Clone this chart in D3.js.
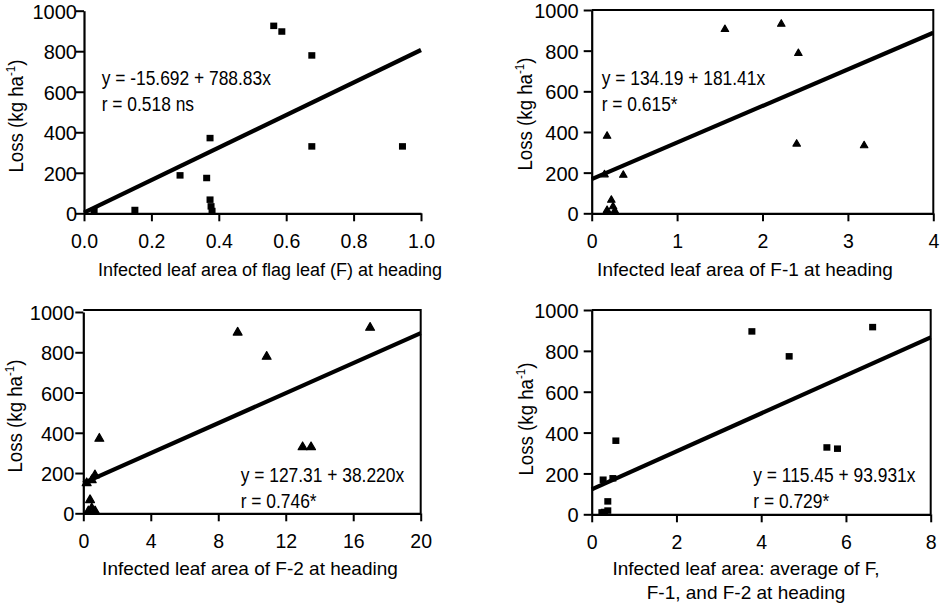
<!DOCTYPE html>
<html><head><meta charset="utf-8">
<script src="https://cdn.jsdelivr.net/npm/d3@7"></script>
<style>body{margin:0;background:#fff}svg{display:block}</style>
</head><body><svg id="c" width="945" height="604"></svg>
<script>
// ---- data ----
const lossTicks = [0, 200, 400, 600, 800, 1000];

const flagX = [0.563, 0.587, 0.676, 0.374, 0.676, 0.945, 0.285, 0.364, 0.151, 0.374, 0.377, 0.380, 0.03];
const flagY = [924, 896, 778, 370, 329, 329, 186, 173, 15, 66, 33, 10, 12];

const f1X = [1.56, 2.22, 2.42, 0.18, 2.40, 3.19, 0.37, 0.15, 0.23, 0.25, 0.27, 0.18];
const f1Y = [905, 931, 787, 380, 341, 333, 188, 190, 65, 33, 12, 15];

const f2X = [9.15, 17.0, 10.87, 0.95, 13.0, 13.5, 0.69, 0.5, 0.2, 0.4, 0.5, 0.7, 0.3];
const f2Y = [898, 922, 778, 371, 329, 329, 189, 165, 150, 66, 25, 10, 10];

const avgX = [3.78, 6.63, 4.66, 0.57, 5.55, 5.80, 0.27, 0.5, 0.24, 0.38, 0.38, 0.30];
const avgY = [894, 915, 772, 359, 326, 320, 168, 175, 8, 62, 17, 10];

const xTicksFlag = [0, 0.2, 0.4, 0.6, 0.8, 1.0];
const xTicksF1 = [0, 1, 2, 3, 4];
const xTicksF2 = [0, 4, 8, 12, 16, 20];
const xTicksAvg = [0, 2, 4, 6, 8];

const eqLines = ["y = -15.692 + 788.83x", "y = 134.19 + 181.41x", "y = 127.31 + 38.220x", "y = 115.45 + 93.931x"];
const rLines = ["r = 0.518 ns", "r = 0.615*", "r = 0.746*", "r = 0.729*"];
// fitted line as drawn: loss at start and end of x domain
const fitStart = [3, 168, 150, 122];
const fitEnd = [806, 888, 895, 866];

const xTitles = [
  ["Infected leaf area of flag leaf (F) at heading"],
  ["Infected leaf area of F-1 at heading"],
  ["Infected leaf area of F-2 at heading"],
  ["Infected leaf area: average of F,", "F-1, and F-2 at heading"]
];

// ---- layout ----
const FONT = "'Liberation Sans', Arial, sans-serif";
const COND = 0.87; // horizontal condensing of equation / axis-title text
const panels = [
  {xs: flagX, ys: flagY, ticks: xTicksFlag, fmt: d3.format(".1f"), x0: 84, x1: 421, yT: 10.7, yB: 213.3, frame: false, sym: "square",
   ylx: 23, yly: 116, ytPad: 7, eqX: 101.7, eqY: 85, xtX: 270, xtY: 276, xtSize: 18},
  {xs: f1X, ys: f1Y, ticks: xTicksF1, fmt: d3.format("d"), x0: 591.7, x1: 933.3, yT: 10, yB: 213.3, frame: true, sym: "tri", triSize: 24,
   ylx: 532, yly: 114, ytPad: 13, eqX: 601.7, eqY: 85, xtX: 745, xtY: 276, xtSize: 19},
  {xs: f2X, ys: f2Y, ticks: xTicksF2, fmt: d3.format("d"), x0: 83.3, x1: 420.7, yT: 312, yB: 513.3, frame: true, sym: "tri", triSize: 34,
   ylx: 22, yly: 416, ytPad: 9, eqX: 240.7, eqY: 481.7, xtX: 250, xtY: 575, xtSize: 19, frameTop: 310},
  {xs: avgX, ys: avgY, ticks: xTicksAvg, fmt: d3.format("d"), x0: 591.7, x1: 930.7, yT: 310, yB: 514.3, frame: true, sym: "square",
   ylx: 533, yly: 419, ytPad: 13, eqX: 753.3, eqY: 481.7, xtX: 746, xtY: 575, xtSize: 19}
];

const svg = d3.select("#c");

panels.forEach((p, i) => {
  const xDom = [p.ticks[0], p.ticks[p.ticks.length - 1]];
  const x = d3.scaleLinear().domain(xDom).range([p.x0, p.x1]);
  const y = d3.scaleLinear().domain([0, 1000]).range([p.yB, p.yT]);
  const g = svg.append("g");

  // frame (top and right)
  if (p.frame) {
    const ft = p.frameTop !== undefined ? p.frameTop : p.yT;
    g.append("path")
      .attr("d", `M${p.x0},${ft}H${p.x1}V${p.yB}`)
      .attr("fill", "none").attr("stroke", "#000").attr("stroke-width", 2);
  }

  // x axis
  const ax = g.append("g").attr("transform", `translate(0,${p.yB})`)
    .call(d3.axisBottom(x).tickValues(p.ticks).tickFormat(p.fmt).tickSize(8).tickSizeOuter(0));
  ax.select(".domain").attr("stroke-width", 2.2);
  ax.selectAll(".tick line").attr("stroke-width", 2);
  ax.selectAll(".tick text").attr("dy", null).attr("y", 35)
    .style("font-family", FONT).style("font-size", "19.5px").attr("fill", "#000");

  // y axis
  const ay = g.append("g").attr("transform", `translate(${p.x0},0)`)
    .call(d3.axisLeft(y).tickValues(lossTicks).tickFormat(d3.format("d")).tickSize(8).tickSizeOuter(0));
  ay.select(".domain").attr("stroke-width", 2.2);
  ay.selectAll(".tick line").attr("stroke-width", 2);
  ay.selectAll(".tick text").attr("x", -p.ytPad).attr("dy", "0.38em")
    .style("font-family", FONT).style("font-size", "20px").attr("fill", "#000");

  // fitted line
  g.append("line")
    .attr("x1", x(xDom[0])).attr("y1", y(fitStart[i]))
    .attr("x2", x(xDom[1])).attr("y2", y(fitEnd[i]))
    .attr("stroke", "#000").attr("stroke-width", 4.2);

  // points
  const pts = d3.range(p.xs.length).map(k => [p.xs[k], p.ys[k]]);
  if (p.sym === "square") {
    g.selectAll("rect.pt").data(pts).enter().append("rect")
      .attr("x", d => x(d[0]) - 3.5).attr("y", d => y(d[1]) - 3.5)
      .attr("width", 7).attr("height", 6.5).attr("fill", "#000");
  } else {
    const s = d3.symbol().type(d3.symbolTriangle).size(p.triSize);
    g.selectAll("path.pt").data(pts).enter().append("path")
      .attr("d", s).attr("transform", d => `translate(${x(d[0])},${y(d[1])})`)
      .attr("fill", "#000").attr("stroke", "#000").attr("stroke-width", 1.2).attr("stroke-linejoin", "round");
  }

  // equation text (condensed horizontally)
  const eq = g.append("text").attr("transform", `translate(${p.eqX},${p.eqY}) scale(${COND},1)`)
    .style("font-family", FONT).style("font-size", "20px").attr("fill", "#000");
  eq.append("tspan").attr("x", 0).text(eqLines[i]);
  eq.append("tspan").attr("x", 0).attr("dy", 26).text(rLines[i]);

  // x title
  const xt = g.append("text").attr("text-anchor", "middle").attr("x", p.xtX).attr("y", p.xtY)
    .style("font-family", FONT).style("font-size", p.xtSize + "px").attr("fill", "#000");
  xTitles[i].forEach((line, k) => {
    xt.append("tspan").attr("x", p.xtX).attr("dy", k === 0 ? 0 : 23.5).text(line);
  });

  // y title (condensed along the text direction)
  const yt = g.append("text").attr("text-anchor", "middle")
    .attr("transform", `translate(${p.ylx},${p.yly}) rotate(-90) scale(0.89,1)`)
    .style("font-family", FONT).style("font-size", "21px").attr("fill", "#000");
  yt.append("tspan").text("Loss (kg ha");
  yt.append("tspan").attr("dy", -8).style("font-size", "13px").text("-1");
  yt.append("tspan").attr("dy", 8).text(")");
});
</script>
</body></html>
